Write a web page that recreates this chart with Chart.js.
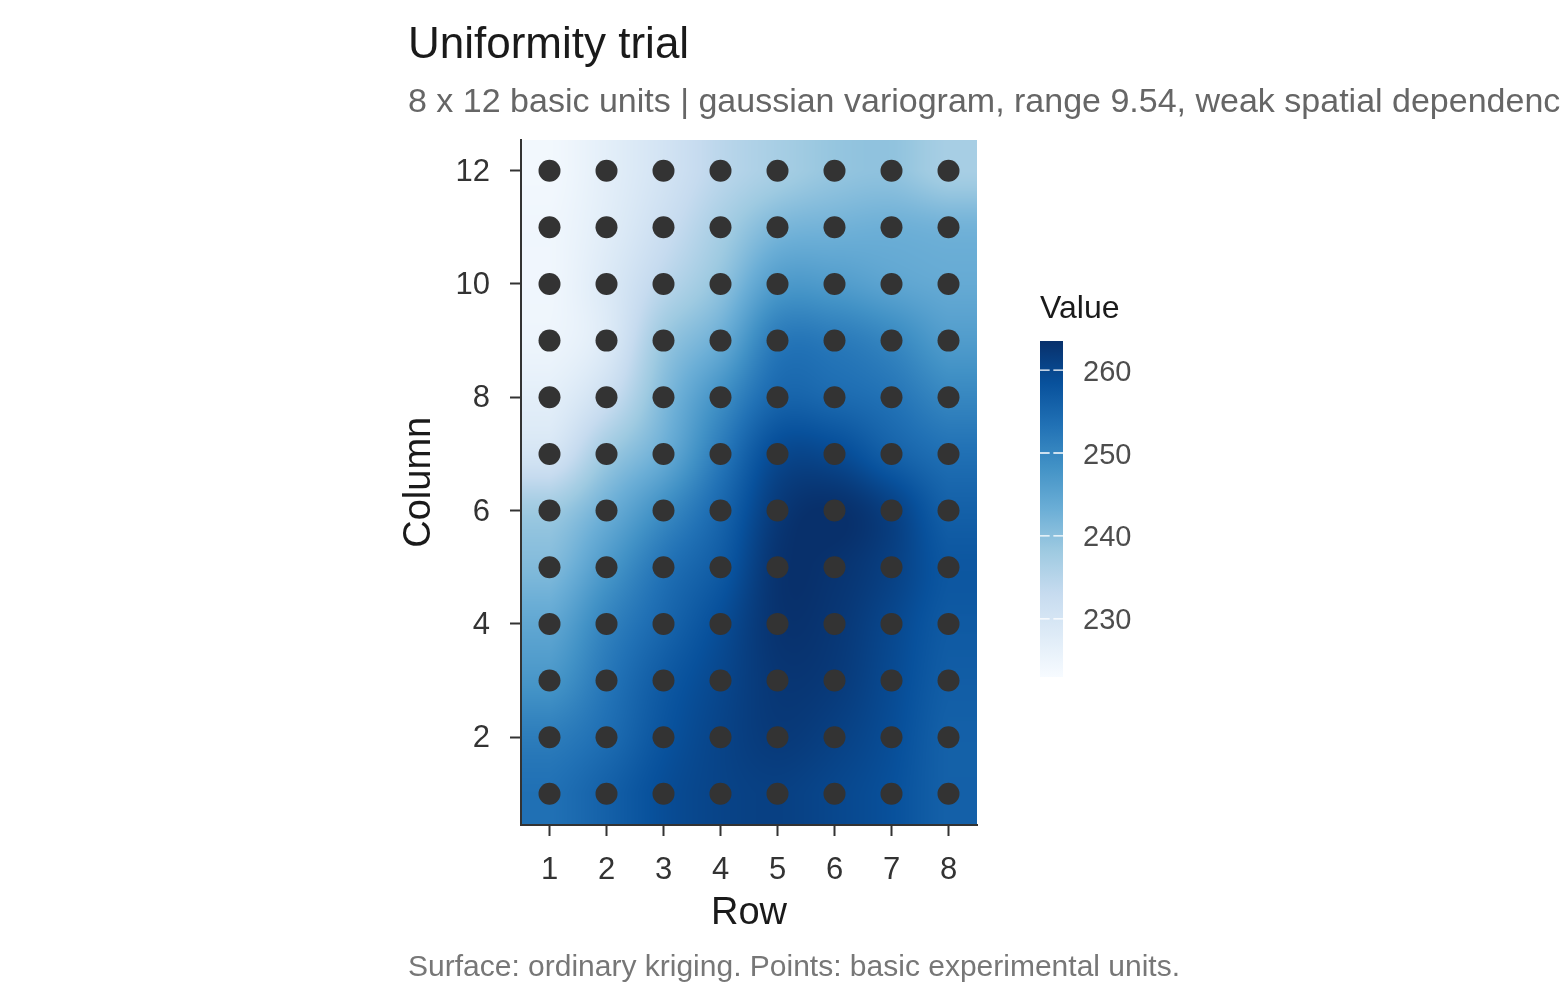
<!DOCTYPE html>
<html>
<head>
<meta charset="utf-8">
<title>Uniformity trial</title>
<script src="https://cdn.jsdelivr.net/npm/chart.js@4.4.1/dist/chart.umd.min.js"></script>
<style>
    html, body { margin: 0; padding: 0; background: #ffffff; }
    #wrap { position: relative; width: 1560px; height: 1008px; overflow: hidden; }
    #wrap canvas { position: absolute; left: 0; top: 0; }
</style>
</head>
<body>
<div id="wrap">
    <canvas id="surface-chart" width="1560" height="1008"></canvas>
    <canvas id="legend-chart" width="1560" height="1008"></canvas>
</div>
<script>
// grid of basic units: rows along x, columns along y
const rows = [1, 2, 3, 4, 5, 6, 7, 8]
const columns = [1, 2, 3, 4, 5, 6, 7, 8, 9, 10, 11, 12]

const xTicks = [1, 2, 3, 4, 5, 6, 7, 8]
const yTicks = [2, 4, 6, 8, 10, 12]
const legendTicks = [230, 240, 250, 260]
const valueLimits = [223, 263.5]

// kriged surface read at each unit, one array per column, values for rows 1..8
const column1 = [253.5, 256, 259, 260.5, 261, 260, 258.5, 256]
const column2 = [251.5, 254, 258, 260.5, 262, 261, 259, 256]
const column3 = [247.5, 252.5, 257, 260, 262.5, 262, 259.5, 256.5]
const column4 = [244.5, 250.5, 255, 259, 263, 262.5, 260, 257]
const column5 = [241, 247, 253, 257, 263, 263, 261, 257.5]
const column6 = [238, 243, 249, 255, 262, 263.5, 261, 256]
const column7 = [230, 238, 243.5, 252, 259.5, 259.5, 256, 253.5]
const column8 = [227, 232, 241, 248.5, 255, 254.5, 253, 250]
const column9 = [225, 228.5, 238.5, 243.5, 252, 252, 250, 246.5]
const column10 = [224.5, 228.5, 234.5, 239.5, 246.5, 246.5, 245, 244]
const column11 = [224.5, 227.5, 232, 237, 241.5, 242.5, 243, 242.5]
const column12 = [224, 227, 230.5, 234.5, 237, 239, 239.5, 237]
const surface = [column1, column2, column3, column4, column5, column6,
    column7, column8, column9, column10, column11, column12]

const titleText = "Uniformity trial"
const subtitleText = "8 x 12 basic units | gaussian variogram, range 9.54, weak spatial dependence"
const captionText = "Surface: ordinary kriging. Points: basic experimental units."

const blues = ["#f7fbff", "#deebf7", "#c6dbef", "#9ecae1", "#6baed6",
    "#4292c6", "#2171b5", "#08519c", "#08306b"]

const FONT = "'Liberation Sans', Arial, Helvetica, sans-serif"
Chart.defaults.font.family = FONT

const bluesRgb = blues.map(h => [1, 3, 5].map(i => parseInt(h.substr(i, 2), 16)))

function value_to_rgb(v) {
    let t = (v - valueLimits[0]) / (valueLimits[1] - valueLimits[0])
    t = Math.min(1, Math.max(0, t))
    let pos = t * (bluesRgb.length - 1)
    let i = Math.min(bluesRgb.length - 2, Math.floor(pos))
    let f = pos - i
    let a = bluesRgb[i], b = bluesRgb[i + 1]
    return [a[0] + (b[0] - a[0]) * f, a[1] + (b[1] - a[1]) * f, a[2] + (b[2] - a[2]) * f]
}

// catmull-rom between the read values, only used to paint the smooth raster
function cubic(p0, p1, p2, p3, t) {
    return p1 + 0.5 * t * (p2 - p0 + t * (2 * p0 - 5 * p1 + 4 * p2 - p3 + t * (3 * (p1 - p2) + p3 - p0)))
}

function surface_at(rowPos, colPos) {
    let fx = Math.min(rows.length - 1, Math.max(0, rowPos - rows[0]))
    let fy = Math.min(columns.length - 1, Math.max(0, colPos - columns[0]))
    let ix = Math.min(rows.length - 2, Math.floor(fx))
    let iy = Math.min(columns.length - 2, Math.floor(fy))
    let tx = fx - ix, ty = fy - iy
    const at = (c, r) => surface[Math.min(columns.length - 1, Math.max(0, c))][Math.min(rows.length - 1, Math.max(0, r))]
    let line = []
    for (let k = -1; k <= 2; k++) {
        let c = iy + k
        line.push(cubic(at(c, ix - 1), at(c, ix), at(c, ix + 1), at(c, ix + 2), tx))
    }
    return cubic(line[0], line[1], line[2], line[3], ty)
}

// painted before the axes so the axis lines stay on top
const krigingSurface = {
    id: 'krigingSurface',
    beforeDraw(chart) {
        const {ctx, scales: {x, y}} = chart
        const left = x.getPixelForValue(x.min), right = x.getPixelForValue(x.max)
        const top = y.getPixelForValue(y.max), bottom = y.getPixelForValue(y.min)
        const w = Math.round(right - left), h = Math.round(bottom - top)
        const off = document.createElement('canvas')
        off.width = w
        off.height = h
        const octx = off.getContext('2d')
        const img = octx.createImageData(w, h)
        for (let j = 0; j < h; j++) {
            let colPos = y.getValueForPixel(top + j + 0.5)
            for (let i = 0; i < w; i++) {
                let rowPos = x.getValueForPixel(left + i + 0.5)
                let rgb = value_to_rgb(surface_at(rowPos, colPos))
                let k = (j * w + i) * 4
                img.data[k] = rgb[0]
                img.data[k + 1] = rgb[1]
                img.data[k + 2] = rgb[2]
                img.data[k + 3] = 255
            }
        }
        octx.putImageData(img, 0, 0)
        ctx.drawImage(off, left, top)
    }
}

const plotTexts = {
    id: 'plotTexts',
    afterDraw(chart) {
        const ctx = chart.ctx
        ctx.save()
        ctx.textAlign = 'left'
        ctx.textBaseline = 'alphabetic'
        ctx.fillStyle = '#1a1a1a'
        ctx.font = `44px ${FONT}`
        ctx.fillText(titleText, 408, 58)
        ctx.fillStyle = '#666666'
        ctx.font = `34px ${FONT}`
        ctx.fillText(subtitleText, 408, 112)
        ctx.fillStyle = '#777777'
        ctx.font = `30px ${FONT}`
        ctx.fillText(captionText, 408, 976)
        ctx.restore()
    }
}

let points = []
columns.forEach(c => rows.forEach(r => points.push({x: r, y: c})))

new Chart(document.querySelector('#surface-chart'), {
    type: 'scatter',
    data: {
        datasets: [{
            data: points,
            pointRadius: 11,
            pointHoverRadius: 11,
            backgroundColor: '#333333',
            borderWidth: 0
        }]
    },
    options: {
        responsive: false,
        animation: false,
        devicePixelRatio: 1,
        events: [],
        layout: {padding: {left: 397, right: 583, top: 139.5, bottom: 72}},
        plugins: {legend: {display: false}, tooltip: {enabled: false}},
        scales: {
            x: {
                type: 'linear',
                min: 0.5,
                max: 8.5,
                afterFit: s => { s.height = 111 },
                afterBuildTicks: s => { s.ticks = xTicks.map(v => ({value: v})) },
                grid: {drawOnChartArea: false, tickLength: 11, tickWidth: 2, tickColor: '#333333'},
                border: {color: '#333333', width: 2},
                ticks: {font: {size: 31}, color: '#333333', padding: 16, maxRotation: 0, autoSkip: false},
                title: {display: true, text: 'Row', font: {size: 38}, color: '#1a1a1a', padding: 0}
            },
            y: {
                type: 'linear',
                min: 0.45,
                max: 12.55,
                afterFit: s => { s.width = 124 },
                afterBuildTicks: s => { s.ticks = yTicks.map(v => ({value: v})) },
                grid: {drawOnChartArea: false, tickLength: 11, tickWidth: 2, tickColor: '#333333'},
                border: {color: '#333333', width: 2},
                ticks: {font: {size: 31}, color: '#333333', padding: 20, labelOffset: 1.5, autoSkip: false},
                title: {display: true, text: 'Column', font: {size: 38}, color: '#1a1a1a', padding: 0}
            }
        }
    },
    plugins: [krigingSurface, plotTexts]
})

const colorBar = {
    id: 'colorBar',
    beforeDatasetsDraw(chart) {
        const {ctx, chartArea: a, scales: {y}} = chart
        ctx.save()
        const grad = ctx.createLinearGradient(0, y.getPixelForValue(valueLimits[0]), 0, y.getPixelForValue(valueLimits[1]))
        blues.forEach((c, i) => grad.addColorStop(i / (blues.length - 1), c))
        ctx.fillStyle = grad
        ctx.fillRect(a.left, a.top, a.right - a.left, a.bottom - a.top)
        ctx.strokeStyle = '#ffffff'
        ctx.lineWidth = 1.3
        let seg = (a.right - a.left) * 0.42
        legendTicks.forEach(v => {
            let py = y.getPixelForValue(v)
            ctx.beginPath()
            ctx.moveTo(a.left, py)
            ctx.lineTo(a.left + seg, py)
            ctx.moveTo(a.right - seg, py)
            ctx.lineTo(a.right, py)
            ctx.stroke()
        })
        ctx.fillStyle = '#1a1a1a'
        ctx.font = `32px ${FONT}`
        ctx.textAlign = 'left'
        ctx.textBaseline = 'alphabetic'
        ctx.fillText('Value', a.left, 318)
        ctx.restore()
    }
}

new Chart(document.querySelector('#legend-chart'), {
    type: 'scatter',
    data: {datasets: [{data: []}]},
    options: {
        responsive: false,
        animation: false,
        devicePixelRatio: 1,
        events: [],
        layout: {padding: {left: 1040, right: 1560 - 1063 - 80, top: 341, bottom: 1008 - 677}},
        plugins: {legend: {display: false}, tooltip: {enabled: false}},
        scales: {
            x: {display: false, min: 0, max: 1},
            y: {
                position: 'right',
                min: valueLimits[0],
                max: valueLimits[1],
                afterFit: s => { s.width = 80 },
                afterBuildTicks: s => { s.ticks = legendTicks.map(v => ({value: v})) },
                grid: {display: false},
                border: {display: false},
                ticks: {font: {size: 29}, color: '#4d4d4d', padding: 12, labelOffset: 2.5}
            }
        }
    },
    plugins: [colorBar]
})
</script>
</body>
</html>
